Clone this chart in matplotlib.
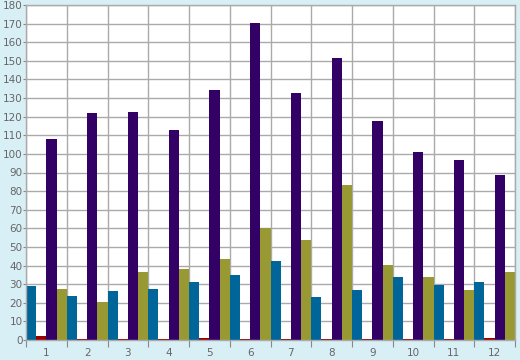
import numpy as np
import matplotlib.pyplot as plt

months = ['1', '2', '3', '4', '5', '6', '7', '8', '9', '10', '11', '12']
blue_vals = [29, 23.7, 26.4, 27.4, 31, 35, 42.3, 23, 26.8, 33.7, 29.5, 31]
red_vals = [2.2, 0.4, 0.4, 0.4, 1.0, 0.7, 0.4, 0.4, 0.4, 0.6, 0.4, 1.2]
purple_vals = [108, 122, 122.6, 113, 134.5, 170.5, 132.9, 151.7, 117.8, 101, 96.8, 88.8]
olive_vals = [27.4, 20.4, 36.6, 38.2, 43.6, 60.2, 53.8, 83.4, 40.3, 33.9, 26.9, 36.6]

series = [blue_vals, red_vals, purple_vals, olive_vals]
colors = ['#006699', '#990000', '#330066', '#999933']

bg = '#d9eff6'
fig = plt.figure(figsize=(5.2, 3.6), dpi=100, facecolor=bg)
ax = fig.add_axes([26 / 520, 20 / 360, 489 / 520, 335 / 360])
ax.set_facecolor('white')

x = np.arange(len(months))
w = 0.25
for i, (vals, c) in enumerate(zip(series, colors)):
    ax.bar(x - 0.375 + i * w, vals, width=w, color=c, linewidth=0, zorder=2)

ax.set_xlim(-0.5, len(months) - 0.5)
ax.set_ylim(0, 180)
ax.set_yticks(np.arange(0, 181, 10))

# boundaries get the grid and tick marks, labels sit in the middle
ax.set_xticks(np.arange(-0.5, len(months), 1.0))
ax.set_xticklabels([])
ax.set_xticks(x, minor=True)
ax.set_xticklabels(months, minor=True)

ax.grid(True, which='major', color='#aaaaaa', linewidth=1.0, zorder=0)
ax.set_axisbelow(True)

ax.tick_params(axis='x', which='major', length=5, color='#888888', direction='out')
ax.tick_params(axis='x', which='minor', length=0, pad=6, labelsize=7.5, labelcolor='#666666')
ax.tick_params(axis='y', length=2, color='#888888', labelsize=7.5, labelcolor='#666666', pad=0.5)

for s in ax.spines.values():
    s.set_color('#aaaaaa')
    s.set_linewidth(1.0)

fig.savefig('out.png', dpi=100, facecolor=bg)
